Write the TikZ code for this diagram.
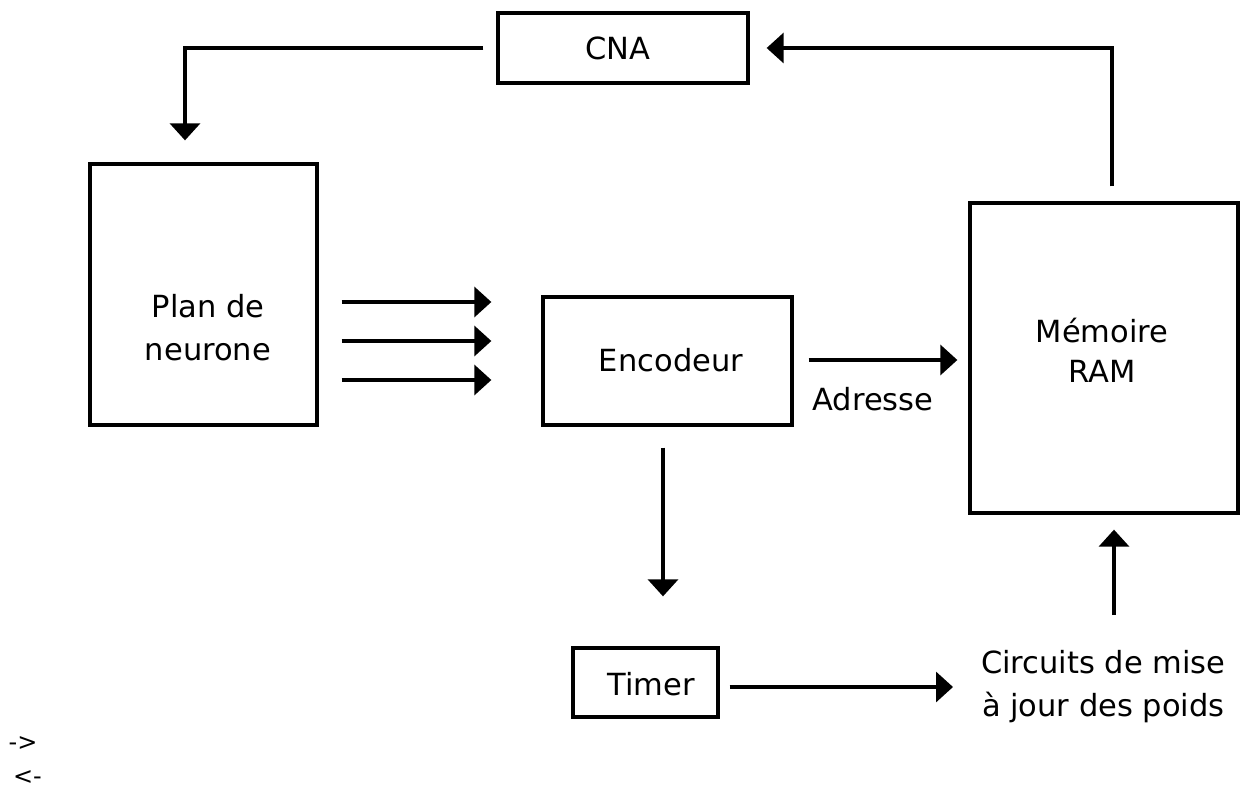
\documentclass[tikz,border=0pt]{standalone}
\usepackage{fontspec}
\setmainfont{DejaVu Sans}
\usetikzlibrary{arrows.meta}
\begin{document}
\begin{tikzpicture}[x=1pt,y=-1pt,
  box/.style={draw, line width=3.3pt, inner sep=0pt},
  lbl/.style={inner sep=0pt, align=center, font=\fontsize{30.5}{43}\selectfont},
  small/.style={inner sep=0pt, font=\fontsize{24}{26}\selectfont},
  arr/.style={line width=3.3pt, -{Triangle[length=17pt,width=30pt]}}]
\useasboundingbox[fill=white] (0,0) rectangle (1247,791);
% boxes
\node[box, minimum width=250pt, minimum height=70pt] (cna) at (623,48) {};
\node[box, minimum width=227pt, minimum height=261pt] (plan) at (203.5,294.5) {};
\node[box, minimum width=249pt, minimum height=128pt] (enc) at (667.5,361) {};
\node[box, minimum width=268pt, minimum height=310pt] (ram) at (1104,358) {};
\node[box, minimum width=145pt, minimum height=69pt] (timer) at (645.5,682.5) {};
% texts
\node[lbl] (cnat) at (618,48.5) {CNA};
\node[lbl] (plant) at (208,328) {Plan de\\neurone};
\node[lbl] (enct) at (671,360.5) {Encodeur};
\node[lbl, font=\fontsize{30.5}{40}\selectfont] (ramt) at (1102,350) {Mémoire\\RAM};
\node[lbl] (timert) at (651,684) {Timer};
\node[lbl] (adr) at (873,399) {Adresse};
\node[lbl, anchor=west] (circ) at (981,686.5) {Circuits de mise\\à jour des poids};
\node[small] (l1) at (23,744) {->};
\node[small] (l2) at (27.5,778) {<-};
% connectors
\draw[arr, shorten <=13pt, shorten >=22pt] (cna.west) -| (plan.north -| 185,0);
\draw[arr, shorten <=15pt, shorten >=17pt] (ram.north -| 1112,0) |- (cna.east);
\draw[arr, shorten <=23pt, shorten >=50pt] (plan.east |- 0,302) -- (enc.west |- 0,302);
\draw[arr, shorten <=23pt, shorten >=50pt] (plan.east |- 0,341) -- (enc.west |- 0,341);
\draw[arr, shorten <=23pt, shorten >=50pt] (plan.east |- 0,380) -- (enc.west |- 0,380);
\draw[arr, shorten <=15pt, shorten >=11pt] (enc.east |- 0,360) -- (ram.west |- 0,360);
\draw[arr, shorten <=21pt, shorten >=50pt] (enc.south -| 663,0) -- (timer.north -| 663,0);
\draw[arr, shorten <=10pt, shorten >=28pt] (timer.east |- 0,687) -- (circ.west |- 0,687);
\draw[arr, shorten <=35pt, shorten >=15pt] (circ.north -| 1114,0) -- (ram.south -| 1114,0);
\end{tikzpicture}
\end{document}
